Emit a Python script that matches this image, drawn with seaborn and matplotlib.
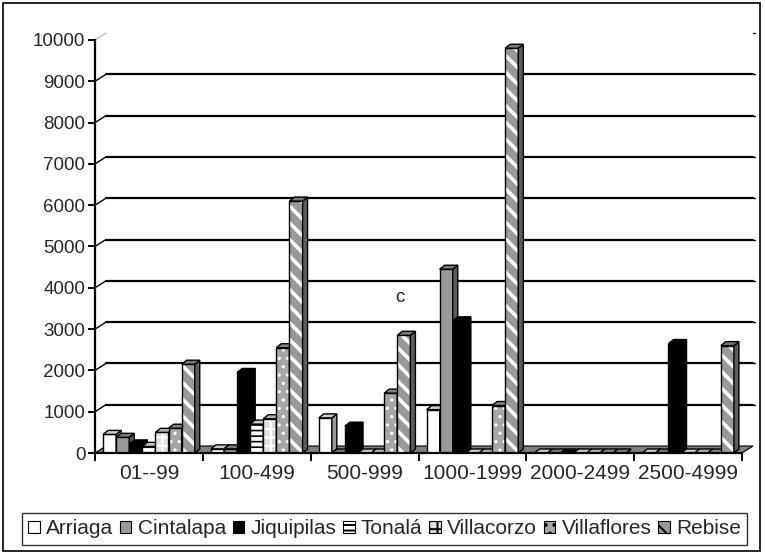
import numpy as np
import pandas as pd
import matplotlib
matplotlib.use("Agg")
import matplotlib.pyplot as plt
import seaborn as sns
from matplotlib.patches import Polygon, Rectangle, Patch

# ---------------- datos ----------------
rangos = ["01--99", "100-499", "500-999", "1000-1999", "2000-2499", "2500-4999"]
municipios = ["Arriaga", "Cintalapa", "Jiquipilas", "Tonalá", "Villacorzo", "Villaflores", "Rebise"]
arriaga = [450, 100, 850, 1050, 0, 0]
cintalapa = [380, 100, 0, 4450, 0, 0]
jiquipilas = [220, 1950, 650, 3200, 0, 2650]
tonala = [160, 700, 0, 0, 0, 0]
villacorzo = [500, 830, 0, 0, 0, 0]
villaflores = [600, 2550, 1450, 1150, 0, 0]
rebise = [2150, 6100, 2850, 9800, 0, 2600]
yticks = list(range(0, 10001, 1000))

series = [arriaga, cintalapa, jiquipilas, tonala, villacorzo, villaflores, rebise]
df = pd.DataFrame({
    "rango": np.tile(rangos, len(municipios)),
    "municipio": np.repeat(municipios, len(rangos)),
    "valor": np.concatenate(series),
})

# estilo de cada serie: cor da face, hachura, cor da hachura, espessura
estilos = {
    "Arriaga": ("#ffffff", "", None, 1),
    "Cintalapa": ("#999999", "", None, 1),
    "Jiquipilas": ("#000000", "", None, 1),
    "Tonalá": ("#ffffff", "---", "#000000", 1.2),
    "Villacorzo": ("#e0e0e0", "++", "#ffffff", 1.5),
    "Villaflores": ("#a6a6a6", "..", "#ffffff", 1.2),
    "Rebise": ("#999999", "\\\\", "#ffffff", 2.6),
}

FS_Y = 13.5
FS_X = 15
FS_LEG = 15

sns.set_style("white")
plt.rcParams["font.family"] = ["Liberation Sans", "DejaVu Sans"]
plt.rcParams["hatch.linewidth"] = 1.4

fig = plt.figure(figsize=(7.65, 5.54), dpi=100)
ax = fig.add_axes([95 / 765, 101 / 554, 647 / 765, 413 / 554])

paleta = {m: estilos[m][0] for m in municipios}
sns.barplot(data=df, x="rango", y="valor", hue="municipio", order=rangos,
            hue_order=municipios, palette=paleta, width=0.85, saturation=1,
            errorbar=None, legend=False, ax=ax)

ax.set_xlim(-0.5, len(rangos) - 0.5)
ax.set_ylim(0, 10000)

# conversao pixel -> dados
px_x = (len(rangos)) / 647
px_y = 10000 / 413
bdx, bdy = 5 * px_x, 4 * px_y      # profundidade das barras
wdx, wdy = 11 * px_x, 7 * px_y     # parede do fundo

def escurecer(c, f):
    rgb = np.array(matplotlib.colors.to_rgb(c))
    return tuple(rgb * f)

# piso cinza
x0, x1 = -0.5, len(rangos) - 0.5
ax.add_patch(Polygon([(x0, 0), (x1, 0), (x1 + wdx, wdy), (x0 + wdx, wdy)],
                     closed=True, facecolor="#808080", edgecolor="black",
                     lw=0.8, zorder=1, clip_on=False))

# linhas de grade na parede do fundo + diagonais no eixo
for v in yticks[1:]:
    if v < 10000:
        ax.plot([x0 + wdx, x1 + wdx], [v + wdy, v + wdy], color="black",
                lw=1.6, zorder=0.5, clip_on=False)
    ax.plot([x0, x0 + wdx], [v, v + wdy], color="black" if v < 10000 else "#bbbbbb",
            lw=1, zorder=0.5, clip_on=False)
    ax.plot([x1 + wdx, x1 + wdx + 2 * px_x], [v + wdy, v + wdy], color="black",
            lw=1, zorder=0.5, clip_on=False)

# barras em 3D
for i, (cont, m) in enumerate(zip(ax.containers, municipios)):
    face, hatch, hcolor, hlw = estilos[m]
    z = 2 + i * 0.1
    for bar in cont:
        x, w, h = bar.get_x(), bar.get_width(), bar.get_height()
        bar.set_zorder(z)
        bar.set_linewidth(0)
        if hatch:
            bar.set_hatch(hatch)
            bar.set_edgecolor(hcolor)
            if hasattr(bar, "set_hatch_linewidth"):
                bar.set_hatch_linewidth(hlw)
        else:
            bar.set_edgecolor(face)
        ax.add_patch(Rectangle((x, 0), w, h, fill=False, edgecolor="black",
                               lw=1, zorder=z + 0.01))
        lado = escurecer(face, 0.6) if face != "#000000" else "#000000"
        topo = escurecer(face, 0.8) if face != "#000000" else "#000000"
        ax.add_patch(Polygon([(x + w, 0), (x + w + bdx, bdy), (x + w + bdx, h + bdy), (x + w, h)],
                             closed=True, facecolor=lado, edgecolor="black", lw=1,
                             zorder=z + 0.02, clip_on=False))
        ax.add_patch(Polygon([(x, h), (x + w, h), (x + w + bdx, h + bdy), (x + bdx, h + bdy)],
                             closed=True, facecolor=topo, edgecolor="black", lw=1,
                             zorder=z + 0.02, clip_on=False))

# eixos
for s in ["top", "right"]:
    ax.spines[s].set_visible(False)
for s in ["left", "bottom"]:
    ax.spines[s].set_color("black")
    ax.spines[s].set_linewidth(1.6)
    ax.spines[s].set_zorder(5)

ax.set_yticks(yticks)
ax.set_yticklabels([str(v) for v in yticks], fontsize=FS_Y)
ax.set_xticks(np.arange(-0.5, len(rangos) + 0.5, 1))
ax.set_xticklabels([])
ax.set_xticks(np.arange(len(rangos)), minor=True)
ax.set_xticklabels(rangos, minor=True, fontsize=FS_X)
ax.tick_params(axis="y", direction="out", length=5, width=1.4, color="black", left=True, pad=2)
ax.tick_params(axis="x", which="major", direction="out", length=6, width=1.4, color="black", bottom=True)
ax.tick_params(axis="x", which="minor", length=0, pad=8)
ax.set_xlabel("")
ax.set_ylabel("")
ax.grid(False)

fig.text(400 / 765, 1 - 297 / 554, "c", fontsize=FS_Y, ha="center", va="center")

# legenda
handles = []
for m in municipios:
    face, hatch, hcolor, hlw = estilos[m]
    handles.append(Patch(facecolor=face, edgecolor="black", hatch=hatch, lw=0.8))
leg = fig.legend(handles, municipios, ncol=7, loc="center",
                 bbox_to_anchor=(384.5 / 765, 1 - 529 / 554), fontsize=FS_LEG,
                 frameon=True, fancybox=False, handlelength=0.55, handleheight=0.55,
                 handletextpad=0.3, columnspacing=0.33, borderpad=0.3, borderaxespad=0)
leg.get_frame().set_edgecolor("black")
leg.get_frame().set_linewidth(1)

# moldura externa
fig.patches.append(Rectangle((3 / 765, 3 / 554), 757 / 765, 548 / 554, fill=False,
                             edgecolor="black", lw=1.2, transform=fig.transFigure))

fig.savefig("out.png", dpi=100)
